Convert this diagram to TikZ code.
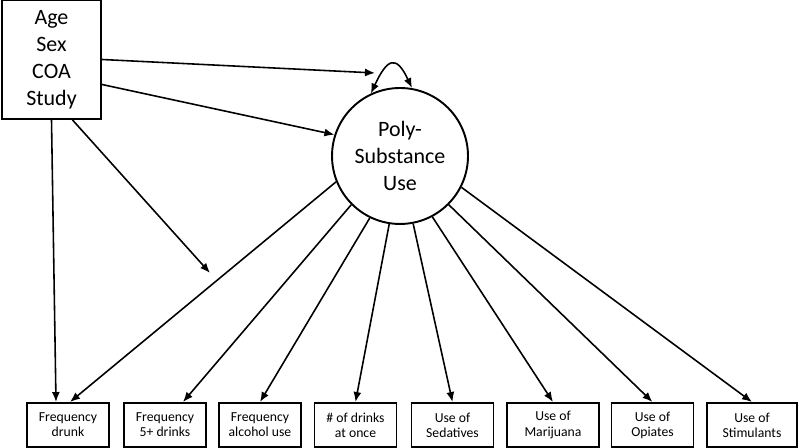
\documentclass[tikz,border=0pt]{standalone}
\usepackage{fontspec}
\setmainfont{Carlito}
\usepackage{tikz}
\usetikzlibrary{arrows.meta,calc}

\begin{document}
\begin{tikzpicture}[x=0.02cm,y=0.02cm,>={Latex[length=2mm,width=1.6mm]},
  covbox/.style={rectangle,draw,line width=1.1pt,minimum width=1.98cm,minimum height=2.38cm,align=center,font=\fontsize{12.5}{15.3}\selectfont},
  latent/.style={circle,draw,line width=1.1pt,minimum size=2.72cm,inner sep=0pt,align=center,font=\fontsize{12.5}{15.5}\selectfont},
  indbox/.style={rectangle,draw,line width=1.1pt,minimum width=1.64cm,minimum height=0.88cm,inner sep=1pt,align=center,font=\fontsize{7.8}{8.6}\selectfont},
  path/.style={->,line width=0.9pt}]
  \useasboundingbox (0,0) rectangle (800,448);
  \node[covbox] (cov) at (51.5,388.5) {Age\\Sex\\COA\\Study};
  \node[latent] (psu) at (400,292) {Poly-\\Substance\\Use};
  \node[indbox] (i1) at (68,23) {Frequency\\drunk};
  \node[indbox] (i2) at (165,23) {Frequency\\5+ drinks};
  \node[indbox] (i3) at (260,23) {Frequency\\alcohol use};
  \node[indbox] (i4) at (355.5,23) {\# of drinks\\at once};
  \node[indbox] (i5) at (452.5,23) {Use of\\Sedatives};
  \node[indbox,minimum width=1.84cm] (i6) at (553,23) {Use of\\Marijuana};
  \node[indbox] (i7) at (652.5,23) {Use of\\Opiates};
  \node[indbox,minimum width=1.8cm] (i8) at (752,23) {Use of\\Stimulants};
  \coordinate (loopend) at (375,375);
  \coordinate (loadend) at (210,175);
  % covariates
  \draw[path] (cov.east) -- (loopend);
  \draw[path] ($(cov.east)+(0,-25)$) -- (psu.162);
  \draw[path] (cov.south) -- ($(i1.north)+(-12,0)$);
  \draw[path] ($(cov.south)+(21,0)$) -- (loadend);
  % residual
  \draw[{Latex[length=2mm,width=1.6mm]}-{Latex[length=2mm,width=1.6mm]},line width=0.9pt] (psu.115) .. controls +(65:38) and +(115:38) .. (psu.80);
  % loadings
  \draw[path] (psu.202) -- ($(i1.north)+(2,0)$);
  \draw[path] (psu.225) -- ($(i2.north)+(18,0)$);
  \draw[path] (psu.244) -- (i3.north);
  \draw[path] (psu.261) -- (i4.north);
  \draw[path] (psu.281) -- (i5.north);
  \draw[path] (psu.298) -- (i6.north);
  \draw[path] (psu.315) -- (i7.north);
  \draw[path] (psu.333) -- (i8.north);
\end{tikzpicture}
\end{document}
